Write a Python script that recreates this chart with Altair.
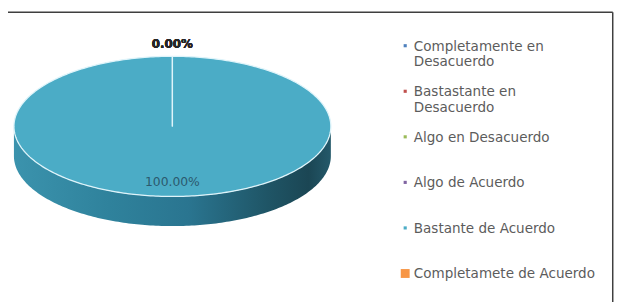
import math
import altair as alt
import pandas as pd

# ---- data ----
categories = [
    "Completamente en Desacuerdo",
    "Bastastante en Desacuerdo",
    "Algo en Desacuerdo",
    "Algo de Acuerdo",
    "Bastante de Acuerdo",
    "Completamete de Acuerdo",
]
legend_labels = [
    "Completamente en\nDesacuerdo",
    "Bastastante en\nDesacuerdo",
    "Algo en Desacuerdo",
    "Algo de Acuerdo",
    "Bastante de Acuerdo",
    "Completamete de Acuerdo",
]
values = [0.0, 0.0, 0.0, 0.0, 100.0, 0.0]
colors = ["#4F81BD", "#C0504D", "#9BBB59", "#8064A2", "#4BACC6", "#F79646"]

# ---- geometry of the tilted pie (unit ellipse, angles clockwise from 12 o'clock) ----
DEPTH = 0.4225
total = sum(values)
pie_rows, label_rows = [], []
cum = 0.0
for i, (cat, v) in enumerate(zip(categories, values)):
    f0 = cum / total
    cum += v
    f1 = cum / total
    n = max(2, int((f1 - f0) * 360) + 1)
    pts = [(0.0, 0.0)]
    for k in range(n):
        a = 2 * math.pi * (f0 + (f1 - f0) * k / (n - 1))
        pts.append((math.sin(a), math.cos(a)))
    pts.append((0.0, 0.0))
    for j, (px, py) in enumerate(pts):
        pie_rows.append({"cat": cat, "ord": j, "x": px, "y": py})
    mid = 2 * math.pi * (f0 + f1) / 2
    inside = (f1 - f0) > 0.05
    r = 0.8 if inside else 1.18
    label_rows.append({
        "cat": cat,
        "x": r * math.sin(mid),
        "y": r * math.cos(mid),
        "text": f"{v:.2f}%",
        "inside": inside,
    })
pie_df = pd.DataFrame(pie_rows)
label_df = pd.DataFrame(label_rows)

side_rows = []
for d in range(90, 271):
    a = math.radians(d)
    side_rows.append({"x": math.sin(a), "y": math.cos(a), "y2": math.cos(a) - DEPTH})
side_df = pd.DataFrame(side_rows)

legend_df = pd.DataFrame({"cat": categories, "label": legend_labels})

W, H = 631, 296
xs = alt.Scale(domain=[-1.0374, 2.8941], nice=False, zero=False)
ys = alt.Scale(domain=[-2.507, 1.662], nice=False, zero=False)
fill_scale = alt.Scale(domain=categories, range=colors)

side = alt.Chart(side_df).mark_area(
    color=alt.Gradient(
        gradient="linear",
        stops=[
            alt.GradientStop(color="#3b93ad", offset=0),
            alt.GradientStop(color="#2f829c", offset=0.3),
            alt.GradientStop(color="#2a7590", offset=0.55),
            alt.GradientStop(color="#1f5566", offset=0.8),
            alt.GradientStop(color="#1b4654", offset=0.93),
            alt.GradientStop(color="#24596a", offset=1),
        ],
        x1=0, x2=1, y1=0, y2=0,
    )
).encode(
    x=alt.X("x:Q", scale=xs, axis=None),
    y=alt.Y("y:Q", scale=ys, axis=None),
    y2="y2:Q",
)

top = alt.Chart(pie_df).mark_line(stroke="#dff4fa", strokeWidth=1.3).encode(
    x=alt.X("x:Q", scale=xs, axis=None),
    y=alt.Y("y:Q", scale=ys, axis=None),
    fill=alt.Fill("cat:N", scale=fill_scale, legend=None),
    detail="cat:N",
    order="ord:Q",
)

lab_in = alt.Chart(label_df).transform_filter("datum.inside").mark_text(
    font="DejaVu Sans", fontSize=12.5, color="#2b5a6e", align="center", baseline="middle"
).encode(
    x=alt.X("x:Q", scale=xs, axis=None),
    y=alt.Y("y:Q", scale=ys, axis=None),
    text="text:N",
)
lab_out = alt.Chart(label_df).transform_filter("!datum.inside").mark_text(
    font="DejaVu Sans", fontSize=12, fontWeight="bold", color="#262626",
    align="center", baseline="middle"
).encode(
    x=alt.X("x:Q", scale=xs, axis=None),
    y=alt.Y("y:Q", scale=ys, axis=None),
    text="text:N",
)

ly = alt.Y("cat:N", sort=categories,
           scale=alt.Scale(type="point", domain=categories, range=[37.3, 268], padding=0),
           axis=None)
leg_sq = alt.Chart(legend_df).mark_square(opacity=1, yOffset=-1).encode(
    x=alt.value(402.3),
    y=ly,
    fill=alt.Fill("cat:N", scale=fill_scale, legend=None),
    size=alt.condition(alt.datum.cat == categories[-1], alt.value(81), alt.value(10)),
)
leg_tx = alt.Chart(legend_df).mark_text(
    align="left", baseline="middle", lineBreak="\n", lineHeight=16,
    font="DejaVu Sans", fontSize=13.7, color="#5c5c5c"
).encode(
    x=alt.value(411),
    y=ly,
    text="label:N",
)

frame_top = alt.Chart(legend_df.head(1)).mark_rule(color="#3f3f3f", strokeWidth=1.5).encode(
    x=alt.value(0), x2=alt.value(612.5), y=alt.value(2.5)
)
frame_right = alt.Chart(legend_df.head(1)).mark_rule(color="#3f3f3f", strokeWidth=1.5).encode(
    x=alt.value(612.5), y=alt.value(2.5), y2=alt.value(H)
)

chart = alt.layer(
    side, top, lab_in, lab_out, leg_sq, leg_tx, frame_top, frame_right
).resolve_scale(y="independent").properties(
    width=W, height=H, padding=0, autosize=alt.AutoSizeParams(type="none"),
    background="white",
).configure_view(stroke=None)

chart.save("out.html", embed_options={"renderer": "svg", "actions": False})
